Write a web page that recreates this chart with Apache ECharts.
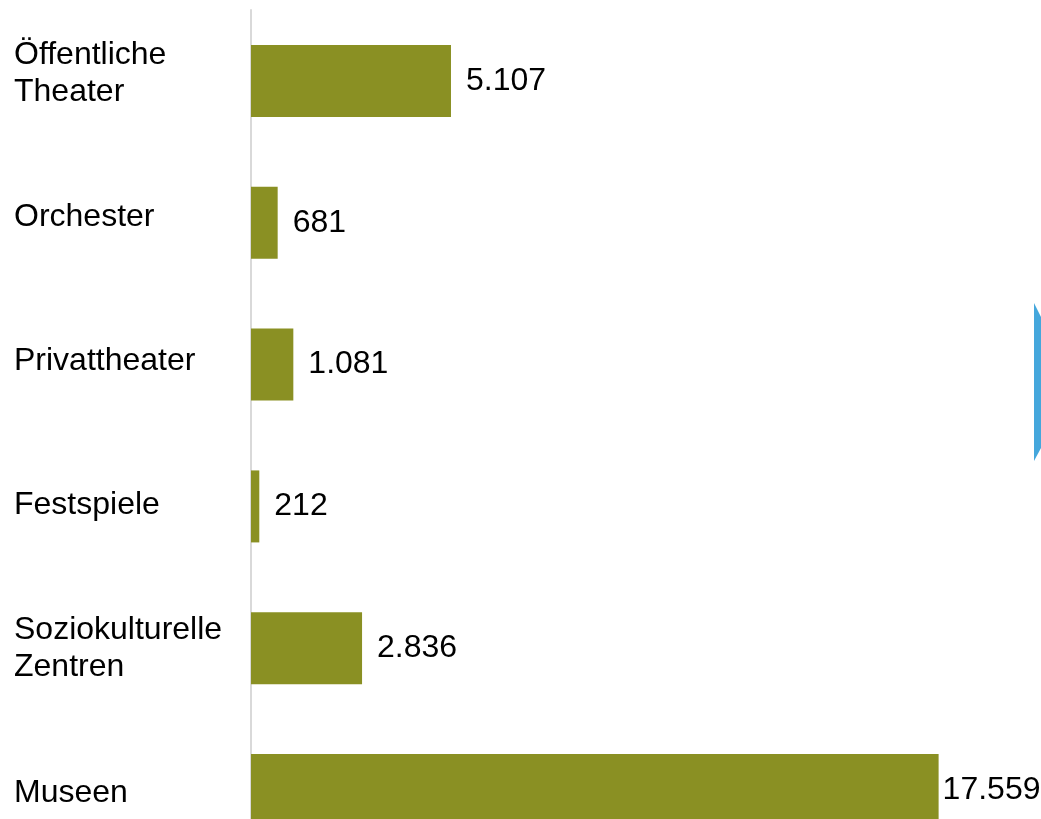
<!DOCTYPE html>
<html>
<head>
<meta charset="utf-8">
<style>
  html, body { margin: 0; padding: 0; background: #ffffff; }
  #chart { width: 1041px; height: 819px; }
</style>
<script src="https://cdn.jsdelivr.net/npm/echarts@6/dist/echarts.min.js"></script>
</head>
<body>
<div id="chart"></div>
<script>
// Kategorien (von oben nach unten) und Werte
const categories = [
  'Öffentliche\nTheater',
  'Orchester',
  'Privattheater',
  'Festspiele',
  'Soziokulturelle\nZentren',
  'Museen'
];
const values = [5107, 681, 1081, 212, 2836, 17559];

const fmt = v => v.toLocaleString('de-DE');
const FONT = 'Liberation Sans, Arial, sans-serif';

const chart = echarts.init(document.getElementById('chart'), null, { renderer: 'canvas' });

const barData = values.map((v, i) => {
  const item = { value: v };
  if (i === values.length - 1) {
    item.label = { distance: 4 };
  }
  return item;
});

chart.setOption({
  animation: false,
  backgroundColor: '#ffffff',
  grid: [
    // Balkenbereich
    { left: 251, top: 10, width: 783.2, height: 851, containLabel: false, outerBoundsMode: 'none' },
    // Beschriftungsspalte links (etwas weiter gespreizt)
    { left: 251, top: 1.5, width: 783.2, height: 863.4, containLabel: false, outerBoundsMode: 'none' }
  ],
  xAxis: [
    { type: 'value', gridIndex: 0, min: 0, max: 20000, show: false },
    { type: 'value', gridIndex: 1, min: 0, max: 20000, show: false }
  ],
  yAxis: [
    {
      type: 'category',
      gridIndex: 0,
      inverse: true,
      data: categories,
      axisLine: { show: true, lineStyle: { color: '#d9d9d9', width: 2 } },
      axisTick: { show: false },
      axisLabel: { show: false }
    },
    {
      type: 'category',
      gridIndex: 1,
      inverse: true,
      data: categories,
      axisLine: { show: false },
      axisTick: { show: false },
      splitLine: { show: false },
      axisLabel: {
        align: 'left',
        margin: 237,
        color: '#000000',
        fontFamily: FONT,
        fontSize: 32,
        lineHeight: 37
      }
    }
  ],
  series: [{
    type: 'bar',
    xAxisIndex: 0,
    yAxisIndex: 0,
    data: barData,
    barWidth: 72,
    itemStyle: { color: '#8a9023' },
    label: {
      show: true,
      position: 'right',
      distance: 15,
      color: '#000000',
      fontFamily: FONT,
      fontSize: 32,
      formatter: p => fmt(p.value)
    }
  }],
  graphic: [{
    type: 'polygon',
    shape: { points: [[1034, 303], [1041, 317], [1041, 448], [1034, 461]] },
    style: { fill: '#45a7dc' },
    silent: true
  }]
});
</script>
</body>
</html>
